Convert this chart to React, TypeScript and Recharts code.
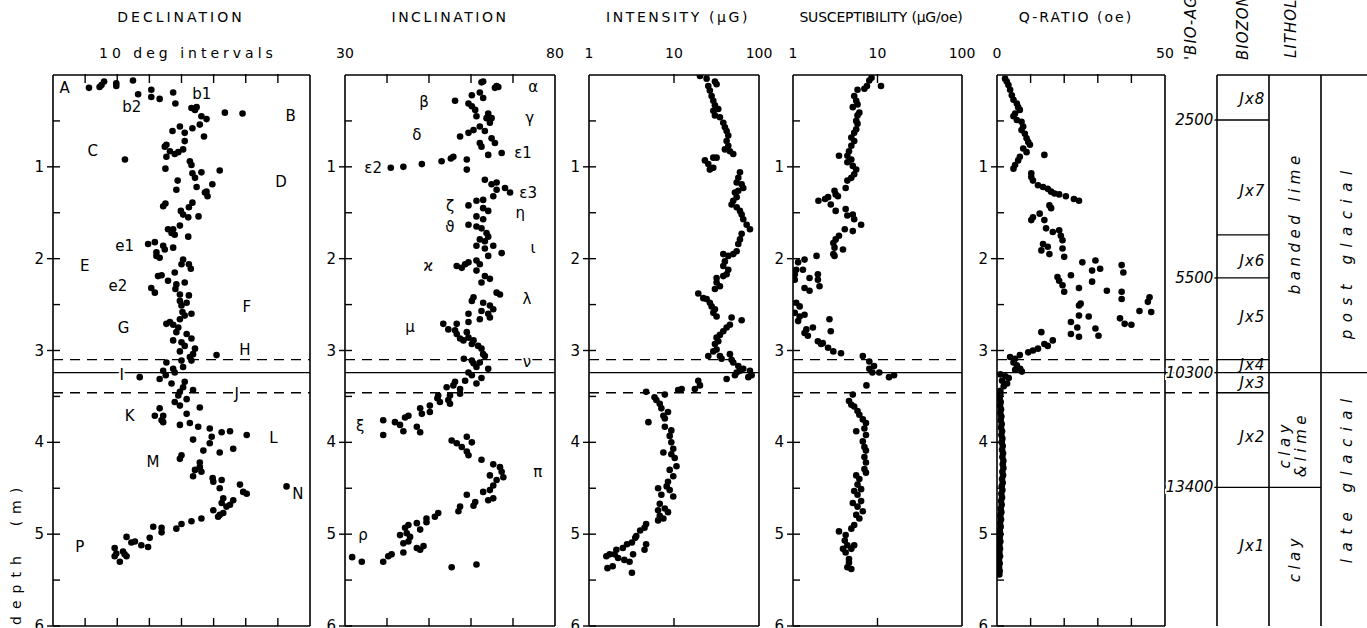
import { ScatterChart, Scatter, XAxis, YAxis, ReferenceLine } from 'recharts';

const FONT = '"DejaVu Sans", sans-serif';

// depth axis (m) shared by every panel
const DEPTH_DOMAIN: [number, number] = [0, 6];
const DEPTH_TICKS = [0.5, 1, 1.5, 2, 2.5, 3, 3.5, 4, 4.5, 5, 5.5, 6];
const DASHED_HORIZONS = [3.1, 3.46];
const SOLID_HORIZON = 3.24;

// [value, depth]
const DECLINATION: [number, number][] = [
  [-28.8, 0.14], [-25.5, 0.13], [-24.9, 0.11], [-24.1, 0.07], [-20.3, 0.12], [-20.3, 0.09], [-15.1, 0.06], [-13.5, 0.21],
  [-9.4, 0.16], [-9.4, 0.24], [-6.8, 0.26], [-2.6, 0.19], [-1.9, 0.31], [3.1, 0.36], [4.7, 0.35], [4.2, 0.38], [6.2, 0.45],
  [7.8, 0.48], [5.7, 0.54], [7.0, 0.67], [13.5, 0.41], [19.0, 0.42], [-0.5, 0.56], [-2.8, 0.61], [1.0, 0.63], [3.4, 0.58],
  [1.0, 0.72], [-4.7, 0.76], [-5.2, 0.78], [-3.6, 0.83], [-4.7, 0.89], [-2.1, 0.86], [-1.0, 0.84], [0.5, 0.81], [-17.6, 0.92],
  [2.6, 0.94], [3.1, 0.98], [-5.0, 1.02], [11.9, 1.04], [3.4, 1.07], [6.2, 1.06], [4.2, 1.12], [-1.2, 1.15], [-1.6, 1.25],
  [4.7, 1.22], [9.6, 1.19], [7.8, 1.27], [8.1, 1.32], [7.3, 1.28], [3.4, 1.39], [2.3, 1.44], [-5.7, 1.43], [-5.0, 1.4],
  [-0.2, 1.48], [2.1, 1.55], [0.5, 1.52], [-0.5, 1.64], [5.3, 1.54], [-4.2, 1.68], [-3.1, 1.72], [-2.1, 1.74], [-2.6, 1.68],
  [2.1, 1.76], [-10.4, 1.84], [-8.3, 1.82], [-5.7, 1.86], [-5.2, 1.9], [-7.8, 1.93], [-2.6, 1.88], [-6.8, 1.99], [-7.8, 1.97],
  [0.5, 2.01], [2.3, 2.06], [2.9, 2.11], [0, 2.06], [-2.1, 2.15], [-7.3, 2.19], [-6.2, 2.18], [-4.2, 2.24], [-1.6, 2.28],
  [1.0, 2.26], [-9.4, 2.32], [-8.3, 2.37], [-1.9, 2.33], [-0.5, 2.39], [2.3, 2.4],
  [-0.5, 2.46], [1.6, 2.48], [0, 2.51], [0.3, 2.58], [1.0, 2.62], [3.1, 2.6], [-0.5, 2.66], [-3.6, 2.69], [-2.6, 2.72],
  [-1.0, 2.75], [-4.7, 2.71], [-1.6, 2.8], [1.6, 2.82], [3.1, 2.87], [-2.6, 2.89], [0, 2.91], [1.0, 2.95], [4.2, 2.98],
  [3.6, 3.04], [2.6, 3.07], [-0.5, 3.01], [0, 3.11], [3.1, 3.11], [10.9, 3.05], [0.5, 3.18], [-4.7, 3.13], [-5.7, 3.22],
  [-2.6, 3.2], [-2.1, 3.24], [-13.0, 3.29], [-6.8, 3.31], [-4.9, 3.27], [-3.1, 3.36], [1.0, 3.34], [0.5, 3.4], [-0.5, 3.45],
  [-1.0, 3.49], [3.6, 3.43], [1.6, 3.53], [-2.1, 3.56], [-0.5, 3.6], [5.7, 3.62], [-6.8, 3.63], [-8.3, 3.71], [-5.7, 3.71],
  [-5.7, 3.78], [-6.2, 3.76], [-0.5, 3.81], [1.6, 3.69], [2.6, 3.79], [5.2, 3.83], [8.8, 3.85], [15.1, 3.88], [12.5, 3.89],
  [9.4, 3.94], [20.3, 3.92], [3.6, 3.97], [8.8, 4.01], [6.8, 4.09], [11.9, 4.11], [16.1, 4.07], [0, 4.14], [-0.5, 4.18],
  [5.7, 4.22], [5.7, 4.27], [4.2, 4.3], [3.6, 4.37], [6.2, 4.32], [9.7, 4.39], [9.9, 4.43], [12.5, 4.41], [18.2, 4.46],
  [11.9, 4.5], [19.2, 4.54], [20.3, 4.56], [32.7, 4.48], [16.1, 4.63], [13.0, 4.61], [12.5, 4.66], [9.9, 4.74], [14.0, 4.7],
  [15.1, 4.68], [11.4, 4.81], [11.9, 4.79], [13.0, 4.77], [6.2, 4.83], [3.1, 4.86], [0, 4.89], [-1.6, 4.94], [-6.2, 4.93],
  [-8.8, 4.92], [-6.2, 4.98], [-9.9, 5.04], [-10.4, 5.14], [-12.5, 5.12], [-14.5, 5.08], [-15.6, 5.09], [-17.1, 5.03],
  [-20.8, 5.15], [-20.8, 5.24], [-19.2, 5.3], [-17.1, 5.24], [-18.2, 5.19], [-20.3, 5.21], [-17.7, 5.22],
];

const INCLINATION: [number, number][] = [
  [62.9, 0.07], [62.5, 0.08], [66.1, 0.12], [65.7, 0.14], [66.5, 0.13], [60.2, 0.22], [62.1, 0.19], [62.9, 0.25], [56.2, 0.28],
  [59.4, 0.31], [60.2, 0.34], [61.0, 0.38], [61.3, 0.45], [64.1, 0.42], [63.7, 0.47], [64.9, 0.47], [64.5, 0.52], [62.1, 0.56],
  [63.3, 0.61], [60.6, 0.6], [57.4, 0.67], [59.4, 0.63], [64.9, 0.69], [65.7, 0.74], [62.1, 0.74], [62.5, 0.78], [67.3, 0.85],
  [64.1, 0.87], [59.0, 0.92], [55.8, 0.89], [55.2, 0.91], [53.0, 0.94], [48.3, 0.97], [43.9, 1.0], [40.9, 1.01], [59.0, 1.03],
  [63.3, 1.14], [66.1, 1.17], [64.9, 1.19], [66.1, 1.25], [68.1, 1.23], [69.3, 1.28], [65.3, 1.32], [62.9, 1.36], [61.3, 1.37],
  [59.4, 1.42], [62.9, 1.45], [64.1, 1.48], [61.3, 1.54], [62.9, 1.57], [59.4, 1.63], [61.3, 1.65], [62.5, 1.67], [63.7, 1.72],
  [62.1, 1.79], [63.3, 1.81], [64.1, 1.76], [61.3, 1.86], [65.3, 1.86], [63.3, 1.89], [67.3, 1.94], [64.1, 1.97], [61.3, 2.02],
  [59.4, 2.04], [62.1, 2.06], [56.6, 2.08], [57.8, 2.1], [58.6, 2.06], [61.3, 2.13], [63.3, 2.19], [64.5, 2.22], [62.5, 2.26],
  [66.9, 2.39], [66.1, 2.37], [60.6, 2.42],
  [60.2, 2.46], [62.9, 2.48], [64.5, 2.51], [65.3, 2.55], [62.5, 2.57], [64.1, 2.6], [59.4, 2.6], [64.5, 2.64], [62.1, 2.66],
  [59.4, 2.69], [53.4, 2.71], [54.6, 2.77], [56.6, 2.71], [56.2, 2.78], [56.6, 2.82], [59.0, 2.8], [59.4, 2.86], [60.6, 2.89],
  [57.4, 2.87], [58.2, 2.89], [61.7, 2.95], [60.2, 2.93], [62.5, 2.98], [62.9, 3.04], [63.3, 3.06], [58.3, 3.09], [60.2, 3.11],
  [60.6, 3.14], [62.1, 3.13], [64.1, 3.2], [61.3, 3.18], [59.4, 3.24], [60.2, 3.27], [58.6, 3.33], [61.3, 3.36], [62.5, 3.3],
  [56.2, 3.34], [55.8, 3.38], [54.2, 3.4], [57.4, 3.42], [57.4, 3.47], [55.0, 3.49], [52.2, 3.49], [52.0, 3.52], [52.6, 3.56],
  [54.6, 3.54], [55.0, 3.58], [50.2, 3.6], [47.9, 3.63], [48.3, 3.69], [50.2, 3.67], [45.1, 3.71], [44.3, 3.73], [41.9, 3.78],
  [43.1, 3.81], [39.1, 3.76], [39.1, 3.92], [43.9, 3.88], [47.1, 3.83], [47.9, 3.89], [55.4, 3.98], [56.6, 4.01], [57.8, 4.05],
  [59.0, 4.1], [59.4, 4.14], [59.0, 3.94], [60.2, 4.0], [62.5, 4.19], [65.3, 4.24], [66.9, 4.27], [67.3, 4.32], [64.5, 4.36],
  [67.7, 4.38], [66.1, 4.41], [65.3, 4.47], [64.5, 4.52], [62.9, 4.54], [65.3, 4.61], [64.1, 4.63], [61.0, 4.65], [59.0, 4.57],
  [57.4, 4.7], [57.0, 4.75], [60.6, 4.69], [52.2, 4.77], [51.4, 4.81], [49.4, 4.83], [49.4, 4.87], [47.1, 4.88], [45.1, 4.9],
  [44.3, 4.93], [47.9, 4.95], [44.7, 4.99], [45.5, 5.03], [43.1, 5.01], [45.1, 5.08], [43.9, 5.1], [47.1, 5.15], [48.7, 5.13],
  [47.9, 5.17], [43.9, 5.2], [41.1, 5.22], [40.3, 5.24], [39.1, 5.3], [34.0, 5.3], [31.7, 5.25], [55.4, 5.36], [61.3, 5.33],
];

const INTENSITY: [number, number][] = [
  [20.2, 0.01], [24.2, 0.04], [30.3, 0.07], [31.7, 0.1], [25.3, 0.12], [26.4, 0.17], [27.7, 0.23], [29.0, 0.28], [30.3, 0.33],
  [33.2, 0.37], [29.0, 0.39], [30.3, 0.44], [34.7, 0.46], [38.0, 0.52], [39.7, 0.57], [41.6, 0.61], [43.5, 0.66], [41.6, 0.72],
  [43.5, 0.77], [39.7, 0.81], [45.5, 0.83], [49.8, 0.86], [23.1, 0.93], [25.3, 0.97], [29.0, 1.01], [26.4, 1.03], [31.7, 0.9],
  [29.0, 0.9], [59.7, 1.06], [57.1, 1.12], [54.6, 1.17], [62.5, 1.19], [65.3, 1.23], [57.1, 1.26], [52.1, 1.28], [54.6, 1.33],
  [49.8, 1.37], [47.6, 1.41], [54.6, 1.44], [59.7, 1.48], [62.5, 1.52], [65.3, 1.57], [71.6, 1.63], [78.3, 1.68], [62.5, 1.73],
  [59.7, 1.79], [57.1, 1.84], [54.6, 1.92], [49.8, 1.95], [43.5, 1.97], [38.0, 1.95], [39.7, 2.03], [38.0, 2.08], [43.5, 2.12],
  [41.6, 2.17], [38.0, 2.19], [31.7, 2.21], [31.7, 2.26], [34.7, 2.3], [30.3, 2.33], [19.3, 2.38], [22.1, 2.43], [24.2, 2.44],
  [26.4, 2.48], [27.7, 2.52], [30.3, 2.55], [29.0, 2.59], [31.7, 2.63], [47.6, 2.64], [62.5, 2.67], [45.5, 2.72], [41.6, 2.75],
  [38.0, 2.79], [34.7, 2.83], [31.7, 2.86], [33.2, 2.9], [30.3, 2.93], [31.7, 2.99], [29.0, 3.01], [25.3, 3.06], [34.7, 3.06],
  [45.5, 3.04], [47.6, 3.1], [49.8, 3.13], [57.1, 3.17], [36.3, 3.09], [59.7, 3.22], [65.3, 3.2], [78.3, 3.22], [82.0, 3.27],
  [74.9, 3.29], [52.1, 3.27], [41.6, 3.31], [54.6, 3.24], [19.3, 3.33], [20.2, 3.38], [17.6, 3.42], [11.2, 3.43], [12.3, 3.42],
  [7.8, 3.48], [4.7, 3.45], [5.9, 3.51], [6.2, 3.54], [6.8, 3.58], [7.1, 3.63], [8.5, 3.67], [7.5, 3.71], [7.8, 3.74],
  [5.0, 3.78], [7.8, 3.83], [9.3, 3.87], [8.9, 3.93], [9.3, 4.0], [9.8, 4.07], [7.5, 4.11], [9.3, 4.13], [10.2, 4.17],
  [10.7, 4.26], [8.9, 4.3], [9.8, 4.37], [8.5, 4.43], [8.2, 4.48], [8.9, 4.52], [9.8, 4.59], [6.5, 4.5], [7.1, 4.57],
  [6.8, 4.67], [7.8, 4.72], [6.5, 4.74], [8.5, 4.76], [6.8, 4.8], [7.5, 4.83], [6.5, 4.85], [4.7, 4.89], [4.5, 4.93],
  [4.0, 4.96], [3.6, 5.02], [3.5, 5.04], [3.2, 5.09], [2.8, 5.11], [2.5, 5.15], [2.1, 5.17], [2.0, 5.22], [1.75, 5.22],
  [1.6, 5.24], [2.2, 5.26], [3.0, 5.3], [4.7, 5.11], [4.5, 5.17], [3.3, 5.22], [2.6, 5.28], [1.9, 5.35], [1.65, 5.37],
  [3.2, 5.42],
];

const SUSCEPTIBILITY: [number, number][] = [
  [8.5, 0.03], [8.0, 0.06], [7.5, 0.12], [7.0, 0.15], [11.0, 0.12], [5.8, 0.16], [5.3, 0.23], [5.6, 0.28], [5.8, 0.32],
  [5.1, 0.35], [6.1, 0.41], [5.8, 0.44], [5.6, 0.5], [5.8, 0.53], [5.6, 0.59], [5.3, 0.63], [4.9, 0.68], [5.3, 0.72],
  [4.9, 0.77], [4.6, 0.83], [4.4, 0.88], [4.9, 0.92], [3.5, 0.88], [4.4, 0.95], [5.1, 0.99], [5.6, 1.03], [5.3, 1.08],
  [4.9, 1.12], [4.4, 1.15], [4.2, 1.23], [3.1, 1.26], [3.2, 1.3], [3.4, 1.32], [2.6, 1.33], [2.4, 1.35], [2.0, 1.37],
  [2.8, 1.41], [3.2, 1.48], [4.2, 1.46], [4.4, 1.53], [5.1, 1.52], [5.3, 1.57], [6.4, 1.63], [5.1, 1.7], [4.1, 1.68],
  [3.5, 1.75], [3.2, 1.79], [3.0, 1.83], [3.1, 1.88], [3.9, 1.9], [3.0, 1.95], [3.1, 1.97], [1.9, 1.97], [1.37, 2.01],
  [1.15, 2.04], [1.09, 2.12], [1.31, 2.12], [1.05, 2.17], [1.05, 2.23], [1.57, 2.21], [1.97, 2.17], [1.97, 2.23],
  [2.06, 2.3], [1.37, 2.32], [1.57, 2.35], [1.09, 2.48], [1.2, 2.52], [1.05, 2.59], [1.2, 2.63], [1.37, 2.61], [1.15, 2.68],
  [2.7, 2.66], [1.72, 2.75], [1.44, 2.77], [1.37, 2.81], [1.5, 2.84], [2.8, 2.79], [1.97, 2.9], [2.25, 2.92], [2.15, 2.93],
  [2.6, 2.97], [3.0, 3.01], [3.7, 3.03], [6.7, 3.06], [8.0, 3.12], [9.1, 3.17],
  [8.0, 3.2], [8.7, 3.24], [10.5, 3.24], [13.7, 3.29], [15.7, 3.27], [7.4, 3.38], [5.1, 3.48], [4.6, 3.55], [4.9, 3.59],
  [5.3, 3.61], [5.8, 3.66], [6.1, 3.7], [6.7, 3.75], [7.3, 3.79], [7.0, 3.85], [5.6, 3.88], [7.3, 3.92], [6.7, 3.99],
  [7.0, 4.05], [7.3, 4.09], [7.0, 4.16], [7.3, 4.22], [7.0, 4.29], [7.3, 4.33], [5.6, 4.36], [6.1, 4.4], [5.8, 4.46],
  [6.4, 4.51], [5.3, 4.53], [5.8, 4.57], [6.4, 4.64], [5.1, 4.66], [5.8, 4.7], [6.7, 4.75], [5.6, 4.79], [6.1, 4.83],
  [5.3, 4.9], [4.9, 4.94], [3.5, 4.97], [4.2, 5.01], [4.1, 5.07], [4.4, 5.12], [3.9, 5.16], [4.9, 5.16], [4.2, 5.2],
  [4.6, 5.27], [4.6, 5.31], [5.3, 5.12], [4.4, 5.36], [4.9, 5.38],
];

const Q_RATIO: [number, number][] = [
  [2.4, 0.04], [2.9, 0.07], [3.4, 0.11], [3.9, 0.16], [4.4, 0.22], [4.9, 0.27], [5.9, 0.31], [6.3, 0.35], [6.8, 0.38],
  [5.4, 0.42], [4.9, 0.45], [5.9, 0.49], [7.3, 0.51], [7.8, 0.56], [7.3, 0.6], [8.3, 0.64], [8.8, 0.69], [9.3, 0.73],
  [9.8, 0.76], [7.8, 0.8], [8.8, 0.84], [6.8, 0.89], [6.3, 0.93], [5.4, 0.98], [4.9, 1.02], [14.1, 0.87], [10.2, 1.07],
  [10.2, 1.11], [10.7, 1.15], [12.2, 1.2], [13.7, 1.22], [15.1, 1.24], [16.1, 1.27], [17.1, 1.29], [18.5, 1.3], [20.5, 1.32],
  [22.9, 1.35], [24.4, 1.37], [15.6, 1.42], [16.1, 1.45], [12.7, 1.51], [10.7, 1.55], [10.2, 1.58], [14.1, 1.58], [14.6, 1.67],
  [16.6, 1.71], [18.5, 1.69], [19.0, 1.75], [19.5, 1.8], [19.5, 1.89], [20.0, 1.98], [13.7, 1.84], [15.1, 1.87], [13.2, 1.91],
  [15.6, 1.95], [18.0, 2.2], [18.5, 2.24], [19.5, 2.29], [20.0, 2.36], [22.0, 2.18], [25.4, 2.04], [28.3, 2.13], [29.3, 2.02],
  [30.7, 2.11], [28.3, 2.25], [24.4, 2.32], [32.7, 2.35], [37.1, 2.07], [37.6, 2.15], [37.1, 2.36], [37.1, 2.44], [45.4, 2.42],
  [44.9, 2.47], [42.4, 2.57], [45.9, 2.58], [24.4, 2.51], [24.9, 2.49], [24.4, 2.62], [27.3, 2.63], [22.0, 2.69], [23.9, 2.75],
  [22.0, 2.82], [24.4, 2.85], [29.3, 2.76], [30.2, 2.84], [36.6, 2.65], [38.0, 2.71], [40.0, 2.72], [13.2, 2.8], [14.1, 2.93],
  [15.1, 2.95], [16.6, 2.89], [12.2, 2.98], [10.7, 3.0], [9.3, 3.02], [6.8, 3.05], [5.4, 3.09], [3.9, 3.07], [4.9, 3.13],
  [5.9, 3.16], [6.9, 3.2], [7.4, 3.23], [5.4, 3.21], [1.0, 3.26], [2.5, 3.28], [3.5, 3.3], [1.5, 3.33], [3.0, 3.36],
  [2.0, 3.39], [1.0, 3.44], [1.0, 3.48], [0.8, 3.52], [1.1, 3.56], [0.9, 3.6], [1.2, 3.64], [1.0, 3.68], [1.3, 3.72],
  [1.1, 3.76], [1.4, 3.8], [1.2, 3.84], [1.5, 3.88], [1.3, 3.92], [1.6, 3.96], [1.4, 4.0], [1.7, 4.04], [1.5, 4.08],
  [1.8, 4.12], [1.6, 4.16], [1.9, 4.2], [1.7, 4.24], [1.9, 4.28], [1.6, 4.32], [1.8, 4.36], [1.5, 4.4], [1.7, 4.44],
  [1.4, 4.48], [1.6, 4.52], [1.3, 4.56], [1.5, 4.6], [1.2, 4.64], [1.4, 4.68], [1.1, 4.72], [1.3, 4.76], [1.0, 4.8],
  [1.2, 4.84], [0.9, 4.88], [1.1, 4.92], [0.8, 4.96], [1.0, 5.0], [0.8, 5.04], [1.0, 5.08], [0.7, 5.12], [0.9, 5.16],
  [0.7, 5.2], [0.9, 5.24], [0.6, 5.28], [0.8, 5.32], [0.6, 5.36], [0.8, 5.4], [0.7, 5.44],
];

// named horizons written into the first two panels
const DEC_LABELS = [
  { v: -36.4, d: 0.14, t: 'A' }, { v: -15.5, d: 0.35, t: 'b2' }, { v: 6.3, d: 0.21, t: 'b1' }, { v: 34.0, d: 0.45, t: 'B' },
  { v: -27.6, d: 0.83, t: 'C' }, { v: 31.0, d: 1.17, t: 'D' }, { v: -17.7, d: 1.86, t: 'e1' }, { v: -30.1, d: 2.08, t: 'E' },
  { v: -19.8, d: 2.3, t: 'e2' }, { v: 20.3, d: 2.53, t: 'F' }, { v: -18.0, d: 2.75, t: 'G' }, { v: 19.7, d: 2.99, t: 'H' },
  { v: -18.6, d: 3.27, t: 'I' }, { v: 17.2, d: 3.47, t: 'J' }, { v: -16.1, d: 3.71, t: 'K' }, { v: 28.6, d: 3.95, t: 'L' },
  { v: -8.9, d: 4.21, t: 'M' }, { v: 36.2, d: 4.56, t: 'N' }, { v: -31.7, d: 5.14, t: 'P' },
];
const INC_LABELS = [
  { v: 74.8, d: 0.13, t: 'α' }, { v: 48.8, d: 0.29, t: 'β' }, { v: 74.0, d: 0.47, t: 'γ' }, { v: 47.1, d: 0.65, t: 'δ' },
  { v: 72.4, d: 0.85, t: 'ε1' }, { v: 36.7, d: 1.01, t: 'ε2' }, { v: 73.6, d: 1.28, t: 'ε3' }, { v: 55.0, d: 1.43, t: 'ζ' },
  { v: 55.0, d: 1.65, t: 'ϑ' }, { v: 71.7, d: 1.5, t: 'η' }, { v: 74.8, d: 1.88, t: 'ι' }, { v: 49.8, d: 2.08, t: 'ϰ' },
  { v: 73.3, d: 2.44, t: 'λ' }, { v: 45.5, d: 2.74, t: 'μ' }, { v: 73.3, d: 3.12, t: 'ν' }, { v: 33.6, d: 3.82, t: 'ξ' },
  { v: 75.9, d: 4.32, t: 'π' }, { v: 34.3, d: 5.01, t: 'ρ' },
];

// right-hand stratigraphy columns: 0 bio-age, 1 biozone, 2 lithology, 3 period
const BIOZONE_BOUNDS = [0.49, 1.74, 2.21, 3.1, 3.24, 3.46, 4.49];
const LITHOLOGY_BOUNDS = [3.24, 4.49];
const PERIOD_BOUNDS = [3.24];
const BIO_AGES = [
  { c: 0.93, d: 0.49, t: '2500' }, { c: 0.93, d: 2.21, t: '5500' },
  { c: 0.93, d: 3.24, t: '10300' }, { c: 0.93, d: 4.49, t: '13400' },
];
const BIOZONES = [
  { c: 1.93, d: 0.26, t: 'Jx8' }, { c: 1.93, d: 1.26, t: 'Jx7' }, { c: 1.93, d: 2.02, t: 'Jx6' }, { c: 1.93, d: 2.63, t: 'Jx5' },
  { c: 1.93, d: 3.16, t: 'Jx4' }, { c: 1.93, d: 3.35, t: 'Jx3' }, { c: 1.93, d: 3.94, t: 'Jx2' }, { c: 1.93, d: 5.13, t: 'Jx1' },
];
const LITHOLOGY = [
  { c: 2.5, d: 1.61, t: 'banded lime' }, { c: 2.3, d: 4.02, t: 'clay' },
  { c: 2.62, d: 4.02, t: '&lime' }, { c: 2.5, d: 5.26, t: 'clay' },
];
const PERIODS = [{ c: 3.5, d: 1.92, t: 'post glacial' }, { c: 3.5, d: 4.38, t: 'late glacial' }];

const toPts = (a: [number, number][]) => a.map(([v, d]) => ({ v, d }));

const PLOT_TOP = 75;
const CHART_H = 628;
const SIDE = 30;
const AXIS = { stroke: '#000', strokeWidth: 1.6 };

const Dot = (p: any) => <circle cx={p.cx} cy={p.cy} r={3.3} fill="#000" />;

const Tag = (p: any) => (
  <text x={p.cx} y={p.cy} textAnchor="middle" dominantBaseline="central" fontSize={15} fontFamily={FONT}
    stroke="#fff" strokeWidth={4} paintOrder="stroke" fill="#000">{p.payload.t}</text>
);

const DepthTick = (p: any) => {
  const v = p.payload.value;
  const major = Number.isInteger(v);
  return (
    <g>
      <line x1={p.x - (major ? 6 : 0)} x2={p.x + 7} y1={p.y} y2={p.y} stroke="#000" strokeWidth={1.4} />
      {major && (
        <text x={p.x - 9} y={p.y} textAnchor="end" dominantBaseline="central" fontSize={15} fontFamily={FONT}>{v}</text>
      )}
    </g>
  );
};

const topTick = (marks: number[], labels: number[]) => (p: any) => {
  const v = p.payload.value;
  return (
    <g>
      {marks.includes(v) && <line x1={p.x} x2={p.x} y1={p.y - 1} y2={p.y + 8} stroke="#000" strokeWidth={1.4} />}
      {labels.includes(v) && (
        <text x={p.x} y={p.y - 22} textAnchor="middle" dominantBaseline="central" fontSize={14} fontFamily={FONT}>{v}</text>
      )}
    </g>
  );
};

const bottomTick = (marks: number[]) => (p: any) =>
  marks.includes(p.payload.value)
    ? <line x1={p.x} x2={p.x} y1={p.y} y2={p.y - 8} stroke="#000" strokeWidth={1.4} />
    : <g />;

interface PanelProps {
  left: number;
  width: number;
  domain: [number, number];
  log?: boolean;
  marks: number[];
  labels: number[];
  points: [number, number][];
  tags?: { v: number; d: number; t: string }[];
}

// axes get a 1px band (a 0px axis is not drawn), so margins give up that pixel
function Panel({ left, width, domain, log, marks, labels, points, tags }: PanelProps) {
  const ticks = Array.from(new Set([...marks, ...labels]));
  const scale = log ? 'log' : 'linear';
  return (
    <div style={{ position: 'absolute', left: left - SIDE, top: 0 }}>
      <ScatterChart width={width + 2 * SIDE} height={CHART_H}
        margin={{ top: PLOT_TOP - 1, right: SIDE - 1, bottom: 1, left: SIDE - 1 }}>
        <XAxis xAxisId={0} orientation="top" type="number" dataKey="v" domain={domain} scale={scale} allowDataOverflow
          height={1} ticks={ticks} interval={0} tickSize={0} tickMargin={0} tickLine={false} axisLine={AXIS}
          tick={topTick(marks, labels)} />
        <XAxis xAxisId="b" orientation="bottom" type="number" dataKey="v" domain={domain} scale={scale} allowDataOverflow
          height={1} ticks={marks.length ? marks : labels} interval={0} tickSize={0} tickMargin={0} tickLine={false}
          axisLine={AXIS} tick={bottomTick(marks)} />
        <YAxis yAxisId={0} type="number" dataKey="d" domain={DEPTH_DOMAIN} reversed allowDataOverflow width={1}
          ticks={DEPTH_TICKS} interval={0} tickSize={0} tickMargin={0} tickLine={false} axisLine={AXIS} tick={DepthTick} />
        <YAxis yAxisId="r" orientation="right" type="number" dataKey="d" domain={DEPTH_DOMAIN} reversed allowDataOverflow
          width={1} ticks={[0, 6]} tick={false} tickLine={false} axisLine={AXIS} />
        {DASHED_HORIZONS.map((d) => (
          <ReferenceLine key={d} y={d} stroke="#000" strokeWidth={1.3} strokeDasharray="10 7" />
        ))}
        <ReferenceLine y={SOLID_HORIZON} stroke="#000" strokeWidth={1.3} />
        <Scatter data={toPts(points)} shape={Dot} isAnimationActive={false} />
        {tags && <Scatter data={tags} shape={Tag} isAnimationActive={false} />}
      </ScatterChart>
    </div>
  );
}

const seg = (c1: number, c2: number, d: number) => [{ x: c1, y: d }, { x: c2, y: d }];

const AgeTag = (p: any) => (
  <text x={p.cx} y={p.cy} textAnchor="end" dominantBaseline="central" fontSize={15} fontStyle="italic" fontFamily={FONT}
    stroke="#fff" strokeWidth={4} paintOrder="stroke" fill="#000">{p.payload.t}</text>
);
const ZoneTag = (p: any) => (
  <text x={p.cx} y={p.cy} textAnchor="end" dominantBaseline="central" fontSize={15} fontStyle="italic" fontFamily={FONT}
    letterSpacing={1}>{p.payload.t}</text>
);
const upright = (spacing: number) => (p: any) => (
  <text x={p.cx} y={p.cy} transform={`rotate(-90 ${p.cx} ${p.cy})`} textAnchor="middle" dominantBaseline="central"
    fontSize={15} fontStyle="italic" fontFamily={FONT} letterSpacing={spacing}>{p.payload.t}</text>
);

function Strata() {
  return (
    <div style={{ position: 'absolute', left: 1165, top: 0 }}>
      <ScatterChart width={222} height={CHART_H} margin={{ top: PLOT_TOP, right: 14, bottom: 2, left: 0 }}>
        <XAxis type="number" dataKey="c" domain={[0, 4]} hide />
        <YAxis type="number" dataKey="d" domain={DEPTH_DOMAIN} reversed hide />
        <ReferenceLine segment={seg(1, 4, 0)} stroke="#000" strokeWidth={1.6} ifOverflow="visible" />
        {[1, 2, 3].map((c) => (
          <ReferenceLine key={c} x={c} stroke="#000" strokeWidth={1.6} ifOverflow="visible" />
        ))}
        {BIOZONE_BOUNDS.map((d) => (
          <ReferenceLine key={`z${d}`} segment={seg(1, 2, d)} stroke="#000" strokeWidth={1.3} ifOverflow="visible" />
        ))}
        {LITHOLOGY_BOUNDS.map((d) => (
          <ReferenceLine key={`l${d}`} segment={seg(2, 3, d)} stroke="#000" strokeWidth={1.3} ifOverflow="visible" />
        ))}
        {PERIOD_BOUNDS.map((d) => (
          <ReferenceLine key={`p${d}`} segment={seg(3, 4, d)} stroke="#000" strokeWidth={1.3} ifOverflow="visible" />
        ))}
        {BIO_AGES.map((a) => (
          <ReferenceLine key={`a${a.t}`} segment={seg(0.9, 1, a.d)} stroke="#000" strokeWidth={1.3} ifOverflow="visible" />
        ))}
        {DASHED_HORIZONS.map((d) => (
          <ReferenceLine key={`h${d}`} segment={seg(0, 1, d)} stroke="#000" strokeWidth={1.3} strokeDasharray="10 7"
            ifOverflow="visible" />
        ))}
        <ReferenceLine segment={seg(0, 1, SOLID_HORIZON)} stroke="#000" strokeWidth={1.3} ifOverflow="visible" />
        <Scatter data={BIO_AGES} shape={AgeTag} isAnimationActive={false} />
        <Scatter data={BIOZONES} shape={ZoneTag} isAnimationActive={false} />
        <Scatter data={LITHOLOGY} shape={upright(4.5)} isAnimationActive={false} />
        <Scatter data={PERIODS} shape={upright(7.5)} isAnimationActive={false} />
      </ScatterChart>
    </div>
  );
}

export default function App() {
  return (
    <div style={{ position: 'absolute', left: 0, top: 0, width: 1367, height: 628, overflow: 'hidden', background: '#fff' }}>
      <Panel left={53} width={257} domain={[-40, 40]} marks={[-30, -20, -10, 0, 10, 20, 30]} labels={[]}
        points={DECLINATION} tags={DEC_LABELS} />
      <Panel left={345} width={210} domain={[30, 80]} marks={[40, 50, 60, 70]} labels={[30, 80]}
        points={INCLINATION} tags={INC_LABELS} />
      <Panel left={589} width={170} domain={[1, 100]} log marks={[10]} labels={[1, 10, 100]} points={INTENSITY} />
      <Panel left={793} width={169} domain={[1, 100]} log marks={[10]} labels={[1, 10, 100]} points={SUSCEPTIBILITY} />
      <Panel left={997} width={168} domain={[0, 50]} marks={[10, 20, 30, 40]} labels={[0, 50]} points={Q_RATIO} />
      <Strata />
      <svg width={1367} height={628} style={{ position: 'absolute', left: 0, top: 0, pointerEvents: 'none' }}
        fontFamily={FONT}>
        <text x={181} y={17} textAnchor="middle" dominantBaseline="central" fontSize={14} letterSpacing={3}>DECLINATION</text>
        <text x={188} y={53} textAnchor="middle" dominantBaseline="central" fontSize={14} letterSpacing={4}>10 deg intervals</text>
        <text x={450} y={17} textAnchor="middle" dominantBaseline="central" fontSize={14} letterSpacing={2.5}>INCLINATION</text>
        <text x={678} y={17} textAnchor="middle" dominantBaseline="central" fontSize={14} letterSpacing={2.6}>INTENSITY (μG)</text>
        <text x={881} y={17} textAnchor="middle" dominantBaseline="central" fontSize={14} letterSpacing={-0.2}>SUSCEPTIBILITY (μG∕oe)</text>
        <text x={1076} y={17} textAnchor="middle" dominantBaseline="central" fontSize={14} letterSpacing={2}>Q-RATIO (oe)</text>
        <text transform="translate(21,625) rotate(-90)" fontSize={14} letterSpacing={7} style={{ whiteSpace: 'pre' }}>depth  (m)</text>
        <text transform="translate(1196,60) rotate(-90)" fontSize={15} fontStyle="italic" letterSpacing={1}>'BIO-AGE'</text>
        <text transform="translate(1248,60) rotate(-90)" fontSize={15} fontStyle="italic" letterSpacing={1}>BIOZONE</text>
        <text transform="translate(1296,58) rotate(-90)" fontSize={15} fontStyle="italic" letterSpacing={1}>LITHOLOGY</text>
      </svg>
    </div>
  );
}
